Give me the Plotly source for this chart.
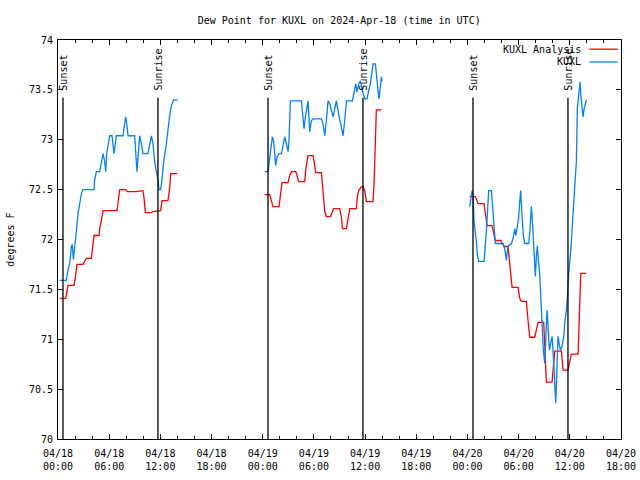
import pandas as pd
import plotly.graph_objects as go

# ---------------- data (hours since 2024-04-18 00:00 UTC, deg F) ----------------
start = "2024-04-18 00:00"

obs1_h = [0.20,0.98,1.18,1.37,1.57,1.68,1.80,1.96,2.15,2.35,2.54,2.74,2.93,4.22,4.30,4.50,4.89,5.08,5.28,5.47,
          5.59,5.71,5.86,6.06,6.33,6.45,6.57,6.72,6.84,7.62,7.82,7.93,8.09,8.21,8.99,9.07,9.18,9.26,9.38,9.57,
          9.77,9.96,10.55,10.75,10.94,11.14,11.33,11.53,11.72,11.84,12.03,12.19,12.39,12.70,12.89,13.09,13.28,13.56,14.03]
obs1_v = [71.59,71.59,71.70,71.76,71.93,71.95,71.80,71.96,72.08,72.26,72.36,72.46,72.50,72.50,72.60,72.68,72.68,72.78,72.86,72.78,
          72.68,72.86,72.96,73.04,73.04,72.96,72.86,72.96,73.04,73.04,73.14,73.23,73.14,73.04,73.04,72.96,72.78,72.68,72.86,73.04,
          72.96,72.86,72.86,72.96,73.04,72.96,72.78,72.68,72.60,72.50,72.50,72.60,72.78,72.96,73.12,73.24,73.34,73.40,73.40]

obs2_h = [24.23,24.62,24.74,24.90,25.01,25.13,25.29,25.40,25.52,25.68,25.91,26.19,26.38,26.58,26.77,26.97,27.08,27.24,28.53,28.73,
          28.84,29.00,29.31,29.51,29.70,29.90,30.88,31.07,31.27,31.46,31.66,31.85,32.05,32.24,32.44,32.63,32.83,33.02,33.22,33.42,
          33.61,33.81,34.51,34.71,34.90,35.06,35.25,35.45,35.68,35.96,36.23,36.42,36.62,36.82,36.93,37.21,37.32,37.52,37.64,37.79,
          37.91,37.97]
obs2_v = [72.68,72.68,72.76,72.86,72.93,73.03,72.98,72.83,72.74,72.83,72.86,72.86,72.93,73.03,72.96,72.88,72.99,73.39,73.39,73.24,
          73.11,73.23,73.39,73.08,73.19,73.21,73.21,73.16,73.04,73.19,73.39,73.36,73.29,73.23,73.31,73.39,73.29,73.21,73.11,73.04,
          73.19,73.39,73.39,73.48,73.56,73.48,73.56,73.59,73.49,73.41,73.41,73.49,73.56,73.69,73.76,73.76,73.63,73.49,73.41,73.54,
          73.63,73.58]

obs3_h = [48.26,48.38,48.54,48.66,48.77,48.93,49.05,49.16,49.32,49.95,50.10,50.22,50.34,50.49,50.81,51.00,51.12,51.27,52.17,52.29,
          52.45,52.56,52.68,52.84,53.15,53.35,53.54,53.66,53.85,54.01,54.13,54.24,54.40,54.56,54.71,55.18,55.30,55.42,55.49,55.61,
          55.73,55.85,55.96,56.08,56.20,56.32,56.47,56.59,56.74,56.90,57.06,57.21,57.33,57.45,57.61,57.76,57.92,58.07,58.23,58.35,
          58.47,58.62,58.74,58.90,59.09,59.29,59.40,59.60,59.72,59.87,60.11,60.26,60.45,60.60,60.77,60.88,61.08,61.20,61.31,61.43,
          61.55,61.67,61.82,61.94]
obs3_v = [72.33,72.43,72.49,72.43,72.19,72.06,71.98,71.84,71.78,71.78,71.93,72.09,72.26,72.49,72.49,72.26,72.11,71.96,71.96,71.93,
          71.86,71.79,71.89,71.94,71.96,72.01,72.11,72.04,72.13,72.23,72.38,72.49,72.23,72.03,71.96,71.96,72.06,72.23,72.33,72.19,
          72.03,71.78,71.63,71.83,71.94,71.78,71.66,71.43,71.09,70.89,70.76,71.03,71.29,71.13,70.89,70.96,71.03,70.83,70.56,70.36,
          70.66,71.03,70.96,70.89,70.93,71.03,71.16,71.29,71.43,71.66,71.89,72.09,72.36,72.60,72.79,73.31,73.49,73.58,73.43,73.29,
          73.23,73.31,73.36,73.40]

ana1_h = [0.20,0.90,1.18,1.88,2.04,2.23,2.93,3.13,3.32,3.91,4.03,4.22,4.81,4.89,5.08,5.28,6.92,7.04,7.23,7.93,
          8.13,9.11,9.96,10.08,10.24,10.94,11.14,12.03,12.19,12.89,13.09,13.21,13.99]
ana1_v = [71.41,71.41,71.54,71.54,71.63,71.75,71.75,71.78,71.81,71.81,71.93,72.04,72.04,72.11,72.19,72.29,72.29,72.39,72.50,72.50,
          72.48,72.48,72.49,72.42,72.27,72.27,72.28,72.29,72.39,72.39,72.52,72.66,72.66]

ana2_h = [24.23,24.82,25.01,25.21,25.91,26.07,26.26,26.97,27.16,27.36,27.87,28.02,28.22,28.92,29.04,29.31,29.90,30.02,30.21,30.88,
          31.07,31.27,31.46,31.93,32.17,32.32,33.02,33.22,33.34,33.81,34.00,34.20,34.98,35.10,35.25,35.56,35.76,35.96,36.15,36.93,
          37.05,37.21,37.32,37.91]
ana2_v = [72.45,72.45,72.39,72.33,72.33,72.43,72.57,72.57,72.64,72.68,72.68,72.64,72.58,72.58,72.70,72.84,72.84,72.78,72.67,72.67,
          72.46,72.28,72.23,72.23,72.28,72.31,72.31,72.23,72.11,72.11,72.21,72.31,72.31,72.43,72.49,72.53,72.53,72.49,72.38,72.38,
          72.56,73.09,73.30,73.30]

ana3_h = [48.26,48.93,49.16,49.24,49.95,50.10,50.30,50.88,51.08,51.27,51.90,52.06,52.29,52.76,53.03,53.23,53.93,54.13,54.32,54.91,
          55.10,55.30,55.89,56.08,56.28,56.94,57.06,57.25,57.92,58.04,58.23,59.01,59.21,59.79,59.99,60.18,60.97,61.04,61.16,61.28,
          61.94]
ana3_v = [72.43,72.43,72.38,72.36,72.36,72.26,72.14,72.14,72.06,71.99,71.99,71.96,71.93,71.93,71.73,71.52,71.52,71.41,71.38,71.38,
          71.19,71.02,71.02,71.09,71.17,71.17,70.86,70.57,70.57,70.69,70.88,70.88,70.69,70.69,70.76,70.85,70.85,71.06,71.44,71.66,
          71.66]

sun_times = ["2024-04-18 00:35", "2024-04-18 11:43", "2024-04-19 00:37",
             "2024-04-19 11:45", "2024-04-20 00:39", "2024-04-20 11:47"]
sun_labels = ["Sunset", "Sunrise", "Sunset", "Sunrise", "Sunset", "Sunrise"]

y_ticks = [70, 70.5, 71, 71.5, 72, 72.5, 73, 73.5, 74]
y_ticklabels = ["70", "70.5", "71", "71.5", "72", "72.5", "73", "73.5", "74"]

series_names = ["KUXL Analysis", "KUXL"]
series_colors = ["#ff0000", "#0080ff"]

# ---------------- build ----------------
t0 = pd.Timestamp(start)


def join(hs_list, vs_list):
    xs, ys = [], []
    for hs, vs in zip(hs_list, vs_list):
        if xs:
            xs.append(None)
            ys.append(None)
        xs += [t0 + pd.Timedelta(hours=h) for h in hs]
        ys += list(vs)
    return xs, ys


ana_x, ana_y = join([ana1_h, ana2_h, ana3_h], [ana1_v, ana2_v, ana3_v])
obs_x, obs_y = join([obs1_h, obs2_h, obs3_h], [obs1_v, obs2_v, obs3_v])

FONT = "DejaVu Sans Mono"

fig = go.Figure()
fig.add_trace(go.Scatter(x=ana_x, y=ana_y, mode="lines", name=series_names[0],
                         line=dict(color=series_colors[0], width=1.3), showlegend=False))
fig.add_trace(go.Scatter(x=obs_x, y=obs_y, mode="lines", name=series_names[1],
                         line=dict(color=series_colors[1], width=1.3), showlegend=False))

x_start = t0
x_end = t0 + pd.Timedelta(hours=66)
major = pd.date_range(x_start, x_end, freq="6h")
minor = pd.date_range(x_start, x_end, freq="2h")

shapes = []
annotations = []
for t, lab in zip(sun_times, sun_labels):
    shapes.append(dict(type="line", xref="x", yref="paper", x0=t, x1=t, y0=0, y1=0.855,
                       line=dict(color="black", width=1.3)))
    annotations.append(dict(x=t, y=0.868, xref="x", yref="paper", text=lab, showarrow=False,
                            textangle=-90, xanchor="center", yanchor="bottom", xshift=1,
                            font=dict(family=FONT, size=10, color="black")))

# legend (gnuplot style: text right-aligned, sample line on the right)
leg_y = [0.977, 0.945]
for name, col, yy in zip(series_names, series_colors, leg_y):
    annotations.append(dict(x=0.933, y=yy, xref="paper", yref="paper", text=name, showarrow=False,
                            xanchor="right", yanchor="middle",
                            font=dict(family=FONT, size=10, color="black")))
    shapes.append(dict(type="line", xref="paper", yref="paper", x0=0.944, x1=0.994, y0=yy, y1=yy,
                       line=dict(color=col, width=1.3)))

annotations.append(dict(x=-0.085, y=0.5, xref="paper", yref="paper", text="degrees F", showarrow=False,
                        textangle=-90, xanchor="center", yanchor="middle",
                        font=dict(family=FONT, size=10, color="black")))

fig.update_layout(
    width=640, height=480,
    margin=dict(l=58, r=19, t=40, b=41),
    paper_bgcolor="white", plot_bgcolor="white",
    font=dict(family=FONT, size=10, color="black"),
    title=dict(text="Dew Point for KUXL on 2024-Apr-18 (time in UTC)", x=0.53, xanchor="center",
               y=0.958, yanchor="middle", font=dict(family=FONT, size=10, color="black")),
    shapes=shapes, annotations=annotations, showlegend=False,
)
fig.update_xaxes(
    type="date", range=[x_start, x_end], automargin=False,
    tickmode="array", tickvals=list(major),
    ticktext=[d.strftime("%m/%d") + "<br>" + d.strftime("%H:%M") for d in major],
    ticks="inside", ticklen=5, tickcolor="black", ticklabelstandoff=5,
    minor=dict(tickmode="array", tickvals=list(minor), ticks="inside", ticklen=3, tickcolor="black"),
    showline=True, linecolor="black", linewidth=1, mirror="allticks",
    showgrid=False, zeroline=False,
    tickfont=dict(family=FONT, size=10, color="black"),
)
fig.update_yaxes(
    range=[70, 74], automargin=False, tickmode="array", tickvals=y_ticks, ticktext=y_ticklabels,
    ticks="inside", ticklen=5, tickcolor="black", ticklabelstandoff=2,
    showline=True, linecolor="black", linewidth=1, mirror="allticks",
    showgrid=False, zeroline=False,
    tickfont=dict(family=FONT, size=10, color="black"),
)

fig.write_html("out.html", config={"displayModeBar": False},
               post_script="document.body.style.margin='0';")
